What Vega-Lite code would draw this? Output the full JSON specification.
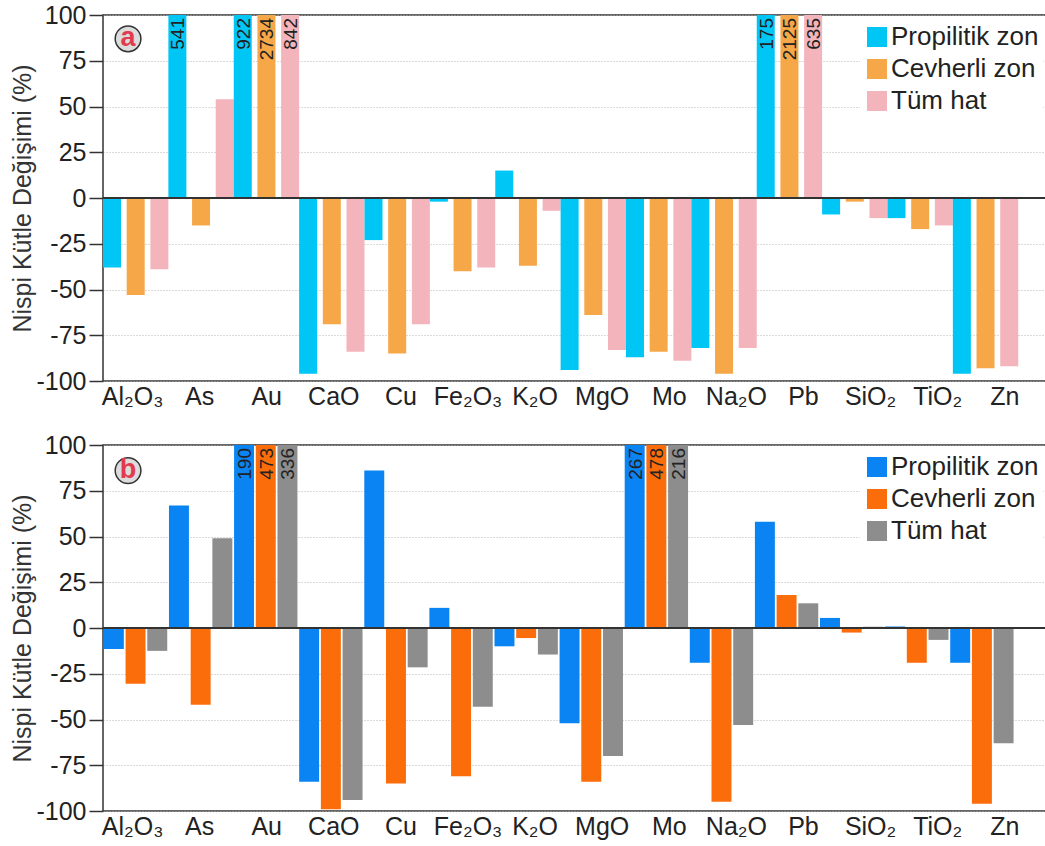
{
  "$schema": "https://vega.github.io/schema/vega-lite/v6.json",
  "padding": {"left": 10, "top": 2, "right": 4, "bottom": 5},
  "background": "white",
  "datasets": {
    "bars": [
      {"panel": "a", "cat": "Al₂O₃", "zone": "Propilitik zon", "value": -38},
      {"panel": "a", "cat": "Al₂O₃", "zone": "Cevherli zon", "value": -53},
      {"panel": "a", "cat": "Al₂O₃", "zone": "Tüm hat", "value": -39},
      {"panel": "a", "cat": "As", "zone": "Propilitik zon", "value": 541},
      {"panel": "a", "cat": "As", "zone": "Cevherli zon", "value": -15},
      {"panel": "a", "cat": "As", "zone": "Tüm hat", "value": 54},
      {"panel": "a", "cat": "Au", "zone": "Propilitik zon", "value": 922},
      {"panel": "a", "cat": "Au", "zone": "Cevherli zon", "value": 2734},
      {"panel": "a", "cat": "Au", "zone": "Tüm hat", "value": 842},
      {"panel": "a", "cat": "CaO", "zone": "Propilitik zon", "value": -96},
      {"panel": "a", "cat": "CaO", "zone": "Cevherli zon", "value": -69},
      {"panel": "a", "cat": "CaO", "zone": "Tüm hat", "value": -84},
      {"panel": "a", "cat": "Cu", "zone": "Propilitik zon", "value": -23},
      {"panel": "a", "cat": "Cu", "zone": "Cevherli zon", "value": -85},
      {"panel": "a", "cat": "Cu", "zone": "Tüm hat", "value": -69},
      {"panel": "a", "cat": "Fe₂O₃", "zone": "Propilitik zon", "value": -2},
      {"panel": "a", "cat": "Fe₂O₃", "zone": "Cevherli zon", "value": -40},
      {"panel": "a", "cat": "Fe₂O₃", "zone": "Tüm hat", "value": -38},
      {"panel": "a", "cat": "K₂O", "zone": "Propilitik zon", "value": 15},
      {"panel": "a", "cat": "K₂O", "zone": "Cevherli zon", "value": -37},
      {"panel": "a", "cat": "K₂O", "zone": "Tüm hat", "value": -7},
      {"panel": "a", "cat": "MgO", "zone": "Propilitik zon", "value": -94},
      {"panel": "a", "cat": "MgO", "zone": "Cevherli zon", "value": -64},
      {"panel": "a", "cat": "MgO", "zone": "Tüm hat", "value": -83},
      {"panel": "a", "cat": "Mo", "zone": "Propilitik zon", "value": -87},
      {"panel": "a", "cat": "Mo", "zone": "Cevherli zon", "value": -84},
      {"panel": "a", "cat": "Mo", "zone": "Tüm hat", "value": -89},
      {"panel": "a", "cat": "Na₂O", "zone": "Propilitik zon", "value": -82},
      {"panel": "a", "cat": "Na₂O", "zone": "Cevherli zon", "value": -96},
      {"panel": "a", "cat": "Na₂O", "zone": "Tüm hat", "value": -82},
      {"panel": "a", "cat": "Pb", "zone": "Propilitik zon", "value": 175},
      {"panel": "a", "cat": "Pb", "zone": "Cevherli zon", "value": 2125},
      {"panel": "a", "cat": "Pb", "zone": "Tüm hat", "value": 635},
      {"panel": "a", "cat": "SiO₂", "zone": "Propilitik zon", "value": -9},
      {"panel": "a", "cat": "SiO₂", "zone": "Cevherli zon", "value": -2},
      {"panel": "a", "cat": "SiO₂", "zone": "Tüm hat", "value": -11},
      {"panel": "a", "cat": "TiO₂", "zone": "Propilitik zon", "value": -11},
      {"panel": "a", "cat": "TiO₂", "zone": "Cevherli zon", "value": -17},
      {"panel": "a", "cat": "TiO₂", "zone": "Tüm hat", "value": -15},
      {"panel": "a", "cat": "Zn", "zone": "Propilitik zon", "value": -96},
      {"panel": "a", "cat": "Zn", "zone": "Cevherli zon", "value": -93},
      {"panel": "a", "cat": "Zn", "zone": "Tüm hat", "value": -92},
      {"panel": "b", "cat": "Al₂O₃", "zone": "Propilitik zon", "value": -11.5},
      {"panel": "b", "cat": "Al₂O₃", "zone": "Cevherli zon", "value": -30.5},
      {"panel": "b", "cat": "Al₂O₃", "zone": "Tüm hat", "value": -12.5},
      {"panel": "b", "cat": "As", "zone": "Propilitik zon", "value": 67},
      {"panel": "b", "cat": "As", "zone": "Cevherli zon", "value": -42},
      {"panel": "b", "cat": "As", "zone": "Tüm hat", "value": 49},
      {"panel": "b", "cat": "Au", "zone": "Propilitik zon", "value": 190},
      {"panel": "b", "cat": "Au", "zone": "Cevherli zon", "value": 473},
      {"panel": "b", "cat": "Au", "zone": "Tüm hat", "value": 336},
      {"panel": "b", "cat": "CaO", "zone": "Propilitik zon", "value": -84},
      {"panel": "b", "cat": "CaO", "zone": "Cevherli zon", "value": -99},
      {"panel": "b", "cat": "CaO", "zone": "Tüm hat", "value": -94},
      {"panel": "b", "cat": "Cu", "zone": "Propilitik zon", "value": 86},
      {"panel": "b", "cat": "Cu", "zone": "Cevherli zon", "value": -85},
      {"panel": "b", "cat": "Cu", "zone": "Tüm hat", "value": -21.5},
      {"panel": "b", "cat": "Fe₂O₃", "zone": "Propilitik zon", "value": 11},
      {"panel": "b", "cat": "Fe₂O₃", "zone": "Cevherli zon", "value": -81},
      {"panel": "b", "cat": "Fe₂O₃", "zone": "Tüm hat", "value": -43},
      {"panel": "b", "cat": "K₂O", "zone": "Propilitik zon", "value": -10},
      {"panel": "b", "cat": "K₂O", "zone": "Cevherli zon", "value": -5.5},
      {"panel": "b", "cat": "K₂O", "zone": "Tüm hat", "value": -14.5},
      {"panel": "b", "cat": "MgO", "zone": "Propilitik zon", "value": -52},
      {"panel": "b", "cat": "MgO", "zone": "Cevherli zon", "value": -84},
      {"panel": "b", "cat": "MgO", "zone": "Tüm hat", "value": -70},
      {"panel": "b", "cat": "Mo", "zone": "Propilitik zon", "value": 267},
      {"panel": "b", "cat": "Mo", "zone": "Cevherli zon", "value": 478},
      {"panel": "b", "cat": "Mo", "zone": "Tüm hat", "value": 216},
      {"panel": "b", "cat": "Na₂O", "zone": "Propilitik zon", "value": -19},
      {"panel": "b", "cat": "Na₂O", "zone": "Cevherli zon", "value": -95},
      {"panel": "b", "cat": "Na₂O", "zone": "Tüm hat", "value": -53},
      {"panel": "b", "cat": "Pb", "zone": "Propilitik zon", "value": 58},
      {"panel": "b", "cat": "Pb", "zone": "Cevherli zon", "value": 18},
      {"panel": "b", "cat": "Pb", "zone": "Tüm hat", "value": 13.5},
      {"panel": "b", "cat": "SiO₂", "zone": "Propilitik zon", "value": 5.5},
      {"panel": "b", "cat": "SiO₂", "zone": "Cevherli zon", "value": -2.5},
      {"panel": "b", "cat": "SiO₂", "zone": "Tüm hat", "value": 0.7},
      {"panel": "b", "cat": "TiO₂", "zone": "Propilitik zon", "value": 0.8},
      {"panel": "b", "cat": "TiO₂", "zone": "Cevherli zon", "value": -19},
      {"panel": "b", "cat": "TiO₂", "zone": "Tüm hat", "value": -6.5},
      {"panel": "b", "cat": "Zn", "zone": "Propilitik zon", "value": -19},
      {"panel": "b", "cat": "Zn", "zone": "Cevherli zon", "value": -96},
      {"panel": "b", "cat": "Zn", "zone": "Tüm hat", "value": -63}
    ],
    "badges": [
      {"panel": "a", "cat": "Al₂O₃", "value": 87, "label": "a"},
      {"panel": "b", "cat": "Al₂O₃", "value": 86, "label": "b"}
    ]
  },
  "vconcat": [
    {
      "width": 944,
      "height": 366,
      "layer": [
        {
          "data": {"name": "bars"},
          "transform": [{"filter": "datum.panel == 'a'"}],
          "layer": [
            {
              "mark": {"type": "bar"},
              "encoding": {
                "x": {"field": "cat", "type": "nominal", "sort": null, "scale": {"type": "band", "domain": ["Al₂O₃", "As", "Au", "CaO", "Cu", "Fe₂O₃", "K₂O", "MgO", "Mo", "Na₂O", "Pb", "SiO₂", "TiO₂", "Zn"], "paddingInner": 0, "paddingOuter": 0.22, "align": 0}, "axis": null},
                "xOffset": {"field": "zone", "type": "nominal", "sort": null, "scale": {"domain": ["Propilitik zon", "Cevherli zon", "Tüm hat"], "paddingInner": 0.24, "paddingOuter": 0}},
                "y": {"field": "value", "type": "quantitative", "scale": {"domain": [-100, 100], "clamp": true, "nice": false}, "axis": {"title": "Nispi Kütle Değişimi (%)", "values": [-100, -75, -50, -25, 0, 25, 50, 75, 100], "labelExpr": "replace(datum.label, '−', '-')"}},
                "color": {"field": "zone", "type": "nominal", "sort": null, "scale": {"domain": ["Propilitik zon", "Cevherli zon", "Tüm hat"], "range": ["#00c6f6", "#f6a747", "#f3b4bb"]}, "legend": {"orient": "none", "legendX": 757, "legendY": 5, "title": null, "symbolType": "square", "symbolSize": 400, "symbolStrokeWidth": 0, "labelFontSize": 26, "labelOffset": 1, "rowPadding": 6, "padding": 4, "fillColor": "white", "labelColor": "#222"}}
              }
            },
            {
              "mark": {"type": "rule", "color": "#333", "strokeWidth": 1.5},
              "encoding": {"y": {"datum": 0}}
            },
            {
              "transform": [{"filter": "datum.value > 100"}],
              "mark": {"type": "text", "angle": 270, "align": "right", "baseline": "middle", "dx": -3, "dy": 1, "fontSize": 19, "color": "#222"},
              "encoding": {
                "x": {"field": "cat", "type": "nominal", "sort": null, "scale": {"type": "band", "domain": ["Al₂O₃", "As", "Au", "CaO", "Cu", "Fe₂O₃", "K₂O", "MgO", "Mo", "Na₂O", "Pb", "SiO₂", "TiO₂", "Zn"], "paddingInner": 0, "paddingOuter": 0.22, "align": 0}, "axis": null},
                "xOffset": {"field": "zone", "type": "nominal", "sort": null, "scale": {"domain": ["Propilitik zon", "Cevherli zon", "Tüm hat"], "paddingInner": 0.24, "paddingOuter": 0}},
                "y": {"field": "value", "type": "quantitative"},
                "text": {"field": "value", "type": "quantitative", "format": "d"}
              }
            }
          ]
        },
        {
          "data": {"name": "badges"},
          "transform": [{"filter": "datum.panel == 'a'"}],
          "encoding": {
            "x": {"field": "cat", "type": "nominal", "sort": null, "scale": {"type": "band", "domain": ["Al₂O₃", "As", "Au", "CaO", "Cu", "Fe₂O₃", "K₂O", "MgO", "Mo", "Na₂O", "Pb", "SiO₂", "TiO₂", "Zn"], "paddingInner": 0, "paddingOuter": 0.035, "align": 0}, "axis": {"orient": "bottom", "title": null, "ticks": false, "domain": false, "labelPadding": 3, "labelOffset": -4, "labelAngle": 0, "grid": false}},
            "y": {"field": "value", "type": "quantitative"}
          },
          "layer": [
            {"mark": {"type": "point", "filled": true, "fill": "#dcdcdc", "stroke": "#333", "strokeWidth": 1.5, "size": 660, "opacity": 1, "xOffset": -8.5}},
            {"mark": {"type": "text", "fontSize": 27, "fontWeight": "bold", "color": "#e23a4e", "dx": -8.5, "dy": -1, "baseline": "middle", "align": "center"}, "encoding": {"text": {"field": "label"}}}
          ]
        }
      ],
      "resolve": {"scale": {"x": "independent"}}
    },
    {
      "width": 944,
      "height": 366,
      "layer": [
        {
          "data": {"name": "bars"},
          "transform": [{"filter": "datum.panel == 'b'"}],
          "layer": [
            {
              "mark": {"type": "bar"},
              "encoding": {
                "x": {"field": "cat", "type": "nominal", "sort": null, "scale": {"type": "band", "domain": ["Al₂O₃", "As", "Au", "CaO", "Cu", "Fe₂O₃", "K₂O", "MgO", "Mo", "Na₂O", "Pb", "SiO₂", "TiO₂", "Zn"], "paddingInner": 0, "paddingOuter": 0.25, "align": 0}, "axis": null},
                "xOffset": {"field": "zone", "type": "nominal", "sort": null, "scale": {"domain": ["Propilitik zon", "Cevherli zon", "Tüm hat"], "paddingInner": 0.08, "paddingOuter": 0.04}},
                "y": {"field": "value", "type": "quantitative", "scale": {"domain": [-100, 100], "clamp": true, "nice": false}, "axis": {"title": "Nispi Kütle Değişimi (%)", "values": [-100, -75, -50, -25, 0, 25, 50, 75, 100], "labelExpr": "replace(datum.label, '−', '-')"}},
                "color": {"field": "zone", "type": "nominal", "sort": null, "scale": {"domain": ["Propilitik zon", "Cevherli zon", "Tüm hat"], "range": ["#0a84f2", "#fb6c0a", "#8d8d8d"]}, "legend": {"orient": "none", "legendX": 757, "legendY": 5, "title": null, "symbolType": "square", "symbolSize": 400, "symbolStrokeWidth": 0, "labelFontSize": 26, "labelOffset": 1, "rowPadding": 6, "padding": 4, "fillColor": "white", "labelColor": "#222"}}
              }
            },
            {
              "mark": {"type": "rule", "color": "#333", "strokeWidth": 1.5},
              "encoding": {"y": {"datum": 0}}
            },
            {
              "transform": [{"filter": "datum.value > 100"}],
              "mark": {"type": "text", "angle": 270, "align": "right", "baseline": "middle", "dx": -3, "dy": 1, "fontSize": 19, "color": "#222"},
              "encoding": {
                "x": {"field": "cat", "type": "nominal", "sort": null, "scale": {"type": "band", "domain": ["Al₂O₃", "As", "Au", "CaO", "Cu", "Fe₂O₃", "K₂O", "MgO", "Mo", "Na₂O", "Pb", "SiO₂", "TiO₂", "Zn"], "paddingInner": 0, "paddingOuter": 0.25, "align": 0}, "axis": null},
                "xOffset": {"field": "zone", "type": "nominal", "sort": null, "scale": {"domain": ["Propilitik zon", "Cevherli zon", "Tüm hat"], "paddingInner": 0.08, "paddingOuter": 0.04}},
                "y": {"field": "value", "type": "quantitative"},
                "text": {"field": "value", "type": "quantitative", "format": "d"}
              }
            }
          ]
        },
        {
          "data": {"name": "badges"},
          "transform": [{"filter": "datum.panel == 'b'"}],
          "encoding": {
            "x": {"field": "cat", "type": "nominal", "sort": null, "scale": {"type": "band", "domain": ["Al₂O₃", "As", "Au", "CaO", "Cu", "Fe₂O₃", "K₂O", "MgO", "Mo", "Na₂O", "Pb", "SiO₂", "TiO₂", "Zn"], "paddingInner": 0, "paddingOuter": 0.035, "align": 0}, "axis": {"orient": "bottom", "title": null, "ticks": false, "domain": false, "labelPadding": 3, "labelOffset": -4, "labelAngle": 0, "grid": false}},
            "y": {"field": "value", "type": "quantitative"}
          },
          "layer": [
            {"mark": {"type": "point", "filled": true, "fill": "#dcdcdc", "stroke": "#333", "strokeWidth": 1.5, "size": 660, "opacity": 1, "xOffset": -8.5}},
            {"mark": {"type": "text", "fontSize": 27, "fontWeight": "bold", "color": "#e23a4e", "dx": -8.5, "dy": -1, "baseline": "middle", "align": "center"}, "encoding": {"text": {"field": "label"}}}
          ]
        }
      ],
      "resolve": {"scale": {"x": "independent"}}
    }
  ],
  "spacing": 22,
  "resolve": {"scale": {"x": "independent", "y": "independent", "color": "independent", "xOffset": "independent"}},
  "config": {
    "font": "Liberation Sans",
    "view": {"stroke": "#333", "strokeWidth": 1.5},
    "axis": {"labelFont": "Liberation Sans", "titleFont": "Liberation Sans", "labelFontSize": 25, "titleFontSize": 25, "titleFontWeight": "normal", "labelColor": "#222", "titleColor": "#333"},
    "axisY": {"tickSize": 14, "tickWidth": 1.5, "tickColor": "#333", "domain": false, "grid": true, "gridDash": [1, 2], "gridColor": "#b5b5b5", "gridWidth": 1, "labelPadding": 3, "titlePadding": 0},
    "legend": {"labelFont": "Liberation Sans"},
    "text": {"font": "Liberation Sans"}
  }
}
